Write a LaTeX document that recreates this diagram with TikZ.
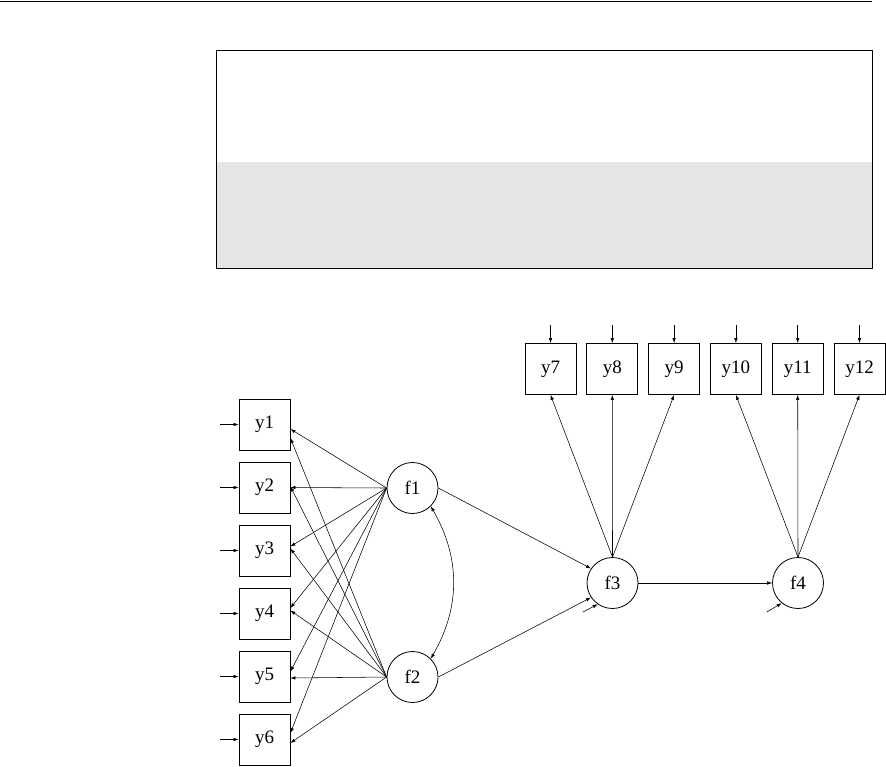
\documentclass[tikz,border=0pt]{standalone}
\usepackage{fontspec}
\setmainfont{Liberation Serif}
\usetikzlibrary{arrows.meta,calc}
\definecolor{panel}{HTML}{E5E5E5}
\begin{document}
\begin{tikzpicture}[x=1pt,y=-1pt,
  obs/.style={draw,line width=0.8pt,minimum width=51pt,minimum height=51pt,inner sep=0pt,font=\fontsize{19}{22}\selectfont},
  lat/.style={draw,circle,line width=0.8pt,minimum size=51pt,inner sep=0pt,font=\fontsize{19}{22}\selectfont},
  arr/.style={-{Latex[length=5pt,width=3.5pt]},line width=0.55pt},
  cov/.style={{Latex[length=5pt,width=3.5pt]}-{Latex[length=5pt,width=3.5pt]},line width=0.55pt},
]
\useasboundingbox (0,0) rectangle (886,766);
% header rule and title panel
\draw[line width=1pt] (0,1) -- (872,1);
\fill[panel] (216,162) rectangle (872,268);
\draw[line width=1pt] (216,50) rectangle (872,268);

% observed indicators left
\foreach \i in {1,...,6}{
  \node[obs] (y\i) at (264.5,{424.5+63*(\i-1)}) {y\i};
  \coordinate (e\i) at (220,{424.5+63*(\i-1)});
  \draw[arr] (e\i) -- (y\i);
}
% observed indicators top
\foreach \i in {7,...,12}{
  \node[obs] (y\i) at ({550.5+61.8*(\i-7)},369) {y\i};
  \coordinate (e\i) at ({550.5+61.8*(\i-7)},325);
  \draw[arr] (e\i) -- (y\i);
}
% latent factors
\node[lat] (f1) at (412.5,488) {f1};
\node[lat] (f2) at (412.5,677) {f2};
\node[lat] (f3) at (612.5,583) {f3};
\node[lat] (f4) at (798,583) {f4};

% loadings of f1 and f2
\foreach \i/\a/\b in {1/4.5/13.5,2/0/-1,3/-4/-2,4/-5.5/-3,5/-5/1.5,6/-6.5/3.5}{
  \draw[arr] (f1.west) -- ([yshift=-\a pt]y\i.east);
  \draw[arr] (f2.west) -- ([yshift=-\b pt]y\i.east);
}
% loadings of f3 and f4
\foreach \i in {7,8,9}{\draw[arr] (f3.north) -- (y\i.south);}
\foreach \i in {10,11,12}{\draw[arr] (f4.north) -- (y\i.south);}

% structural paths
\draw[arr] (f1.east) -- (f3.146);
\draw[arr] (f2.east) -- (f3.214);
\draw[arr] (f3) -- (f4);
\draw[cov] (f1.-45) to[bend left=30] (f2.45);

% residuals of f3 and f4
\coordinate (r3) at ($(f3.235)+(-15,8)$);
\coordinate (r4) at ($(f4.231)+(-15,9)$);
\draw[arr] (r3) -- (f3.235);
\draw[arr] (r4) -- (f4.231);
\end{tikzpicture}
\end{document}
